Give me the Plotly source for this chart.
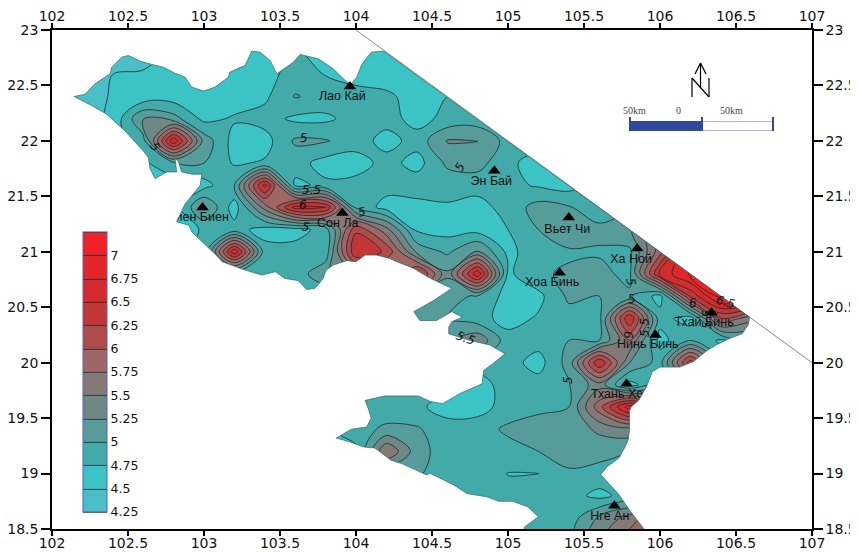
import plotly.graph_objects as go

lons = [102.0,102.2,102.4,102.6,102.8,103.0,103.2,103.4,103.6,103.8,104.0,104.2,104.4,104.6,104.8,105.0,105.2,105.4,105.6,105.8,106.0,106.2,106.4,106.6,106.8,107.0]
lats = [23.0,22.8,22.6,22.4,22.2,22.0,21.8,21.6,21.4,21.2,21.0,20.8,20.6,20.4,20.2,20.0,19.8,19.6,19.4,19.2,19.0,18.8,18.6,18.4]
z = [
[4.6,4.6,4.6,4.6,4.6,4.6,4.6,4.6,4.6,4.6,4.6,4.6,4.6,4.6,4.6,4.6,4.6,4.6,4.6,4.6,4.6,4.6,4.6,4.6,4.6,4.6],
[4.4,4.4,4.4,4.42,4.55,4.6,4.6,4.65,4.78,4.65,4.6,4.6,4.6,4.6,4.65,4.7,4.7,4.7,4.7,4.7,4.7,4.7,4.7,4.7,4.7,4.7],
[4.4,4.4,4.5,4.52,4.55,4.6,4.62,4.66,4.85,4.74,4.62,4.62,4.6,4.6,4.65,4.7,4.7,4.7,4.7,4.7,4.7,4.7,4.7,4.7,4.7,4.7],
[4.4,4.4,4.52,4.58,4.62,4.6,4.62,4.7,5.02,4.9,4.88,4.8,4.65,4.75,4.8,4.8,4.8,4.8,4.8,4.8,4.8,4.8,4.8,4.8,4.8,4.8],
[4.4,4.4,4.55,5.26,5.1,4.68,4.78,4.85,4.7,4.7,4.85,4.85,4.66,4.82,4.85,4.85,4.8,4.8,4.8,4.8,4.8,4.8,4.8,4.8,4.8,4.8],
[4.4,4.4,4.6,4.9,6.7,5.15,4.65,4.65,5.04,5.02,4.88,4.65,4.85,5.27,5.26,4.9,4.85,4.8,4.8,4.8,4.8,4.8,4.8,4.8,4.8,4.8],
[4.4,4.5,4.6,4.7,4.95,5.0,4.72,4.78,4.85,4.65,4.62,4.85,4.65,5.05,5.1,4.8,4.65,4.65,4.7,4.7,4.7,4.7,4.7,4.7,4.7,4.7],
[4.5,4.5,4.6,4.6,4.6,4.65,5.0,6.6,4.7,4.8,4.85,4.85,4.9,4.85,4.85,4.82,4.72,4.65,4.85,4.9,4.9,4.9,4.9,4.9,4.9,4.9],
[4.5,4.5,4.6,4.6,4.6,5.3,4.62,5.6,6.6,6.5,4.95,4.65,4.65,4.72,4.65,4.85,5.1,5.02,4.88,4.95,5.0,5.0,5.0,5.0,5.0,5.0],
[4.6,4.6,4.6,4.6,4.6,4.78,4.85,4.65,4.65,4.85,6.2,5.6,4.7,4.65,4.65,4.75,5.0,5.26,5.05,5.2,5.8,6.2,6.5,6.5,6.5,6.5],
[4.7,4.7,4.7,4.7,4.7,4.8,6.7,4.85,4.85,4.85,6.5,6.2,5.2,4.95,5.3,4.68,4.9,4.95,4.98,4.95,5.9,7.0,7.2,7.2,7.2,7.2],
[4.7,4.7,4.7,4.7,4.7,4.7,4.8,4.75,4.85,5.2,5.5,5.5,6.4,5.3,6.7,4.7,4.95,5.05,5.05,4.95,6.55,7.05,7.2,7.2,7.2,7.2],
[4.8,4.8,4.8,4.8,4.8,4.8,4.8,4.8,4.8,4.8,4.8,5.0,5.3,5.05,4.98,4.65,4.68,5.05,5.0,5.03,4.65,6.3,7.1,7.2,7.0,7.0],
[4.8,4.8,4.8,4.8,4.8,4.8,4.8,4.8,4.8,4.8,4.8,4.9,5.05,5.0,4.85,4.65,4.78,4.9,4.92,6.5,4.85,4.62,6.0,5.6,5.5,5.0],
[4.8,4.8,4.8,4.8,4.8,4.8,4.8,4.8,4.8,4.8,4.8,4.9,5.1,5.2,5.45,4.85,4.85,5.0,5.0,5.75,4.65,5.0,4.7,5.0,5.0,5.0],
[4.8,4.8,4.8,4.8,4.8,4.8,4.8,4.8,4.8,4.8,4.8,4.8,4.8,4.8,4.85,4.85,4.65,5.1,6.5,5.25,4.9,6.4,5.0,5.0,5.0,5.0],
[4.7,4.7,4.7,4.7,4.7,4.7,4.7,4.7,4.7,4.7,4.8,4.85,4.85,4.8,4.65,4.85,4.85,4.98,5.4,4.65,5.0,5.0,5.0,5.0,5.0,5.0],
[4.7,4.7,4.7,4.7,4.7,4.7,4.7,4.7,4.7,4.7,4.8,4.85,4.8,4.65,4.65,4.85,4.95,5.0,5.9,6.9,6.0,5.0,5.0,5.0,5.0,5.0],
[4.7,4.7,4.7,4.7,4.7,4.7,4.7,4.7,4.7,4.7,4.9,5.05,5.03,4.85,4.88,5.05,5.1,5.1,5.3,5.4,5.0,5.0,5.0,5.0,5.0,5.0],
[4.7,4.7,4.7,4.7,4.7,4.7,4.7,4.7,4.7,4.7,4.68,5.75,5.12,4.85,4.85,4.9,5.0,5.15,5.1,5.0,5.0,5.0,5.0,5.0,5.0,5.0],
[4.7,4.7,4.7,4.7,4.7,4.7,4.7,4.7,4.7,4.7,4.75,5.0,5.05,4.8,4.82,4.745,4.745,4.95,4.9,4.9,4.9,4.9,4.9,4.9,4.9,4.9],
[4.7,4.7,4.7,4.7,4.7,4.7,4.7,4.7,4.7,4.7,4.7,4.7,4.7,4.7,4.82,4.8,4.85,4.85,4.68,4.85,4.9,4.9,4.9,4.9,4.9,4.9],
[4.85,4.85,4.85,4.85,4.85,4.85,4.85,4.85,4.85,4.85,4.85,4.85,4.85,4.85,4.85,4.85,4.85,4.85,5.3,5.6,6.0,6.0,6.0,6.0,6.0,6.0],
[4.8,4.8,4.8,4.8,4.8,4.8,4.8,4.8,4.8,4.8,4.8,4.8,4.8,4.8,4.8,4.8,4.8,4.95,5.5,5.9,6.0,6.0,6.0,6.0,6.0,6.0],
]

band_colors = ["#4bbfc8","#3cc3c5","#42abaa","#559c9a","#6f8886","#837a78","#a06666","#ae4c4c","#c23636","#d42c2e","#e42629","#f02226"]
bar_ticks = [4.25,4.5,4.75,5,5.25,5.5,5.75,6,6.25,6.5,6.75,7]
bar_labels = ["4.25","4.5","4.75","5","5.25","5.5","5.75","6","6.25","6.5","6.75","7"]

ring_lon = [102.145,102.217,102.283,102.382,102.393,102.459,102.503,102.579,102.656,102.733,102.81,102.875,102.919,102.996,103.073,103.16,103.17,103.215,103.27,103.314,103.369,103.435,103.479,103.588,103.632,103.753,103.85,103.94,103.97,104.005,104.03,104.04,104.10,104.18,
106.59,106.58,106.54,106.46,106.37,106.31,106.22,106.13,106.07,106.0,105.95,105.91,105.86,105.81,105.80,105.80,105.79,105.77,105.73,105.65,105.61,105.65,105.73,105.80,105.89,105.95,
105.08,105.11,105.20,105.13,105.03,104.94,104.86,104.73,104.64,104.49,104.46,104.40,104.30,104.23,104.125,104.05,103.95,103.87,103.97,104.07,104.10,104.08,104.06,104.19,104.30,104.41,104.49,104.57,104.68,104.83,104.84,104.90,104.98,104.88,104.75,104.61,104.61,104.63,104.70,104.63,104.53,104.42,104.38,104.51,104.575,104.63,104.49,104.38,104.27,104.22,104.135,104.06,104.00,103.94,103.85,103.80,103.785,103.73,103.675,103.62,103.53,103.47,103.38,103.26,103.12,103.08,103.01,102.92,102.90,102.82,102.875,102.975,102.985,102.92,102.853,102.83,102.81,102.82,102.755,102.678,102.645,102.634,102.60,102.48,102.36,102.26]
ring_lat = [22.40,22.42,22.515,22.605,22.665,22.755,22.77,22.72,22.69,22.665,22.61,22.575,22.485,22.45,22.485,22.575,22.62,22.65,22.68,22.81,22.80,22.725,22.605,22.71,22.78,22.74,22.65,22.53,22.515,22.575,22.665,22.695,22.80,22.81,
20.41,20.34,20.26,20.22,20.16,20.11,20.01,19.96,19.96,19.96,19.92,19.78,19.66,19.60,19.57,19.39,19.30,19.24,19.14,19.06,18.99,18.93,18.81,18.67,18.51,18.40,
18.40,18.52,18.61,18.70,18.75,18.75,18.79,18.82,18.90,19.00,18.99,19.03,19.09,19.12,19.23,19.24,19.29,19.32,19.40,19.42,19.50,19.59,19.66,19.70,19.70,19.70,19.65,19.63,19.72,19.81,19.93,19.99,20.08,20.16,20.20,20.26,20.32,20.37,20.41,20.46,20.38,20.38,20.46,20.56,20.62,20.67,20.76,20.85,20.91,20.94,20.97,20.97,20.91,20.92,20.88,20.83,20.76,20.67,20.66,20.74,20.76,20.82,20.79,20.84,20.91,20.97,21.06,21.18,21.24,21.27,21.43,21.60,21.70,21.70,21.72,21.82,21.84,21.72,21.72,21.66,21.75,21.85,21.91,22.09,22.24,22.32]
outer_lon = [101.9,101.9,107.1,107.1,101.9]
outer_lat = [23.1,18.3,18.3,23.1,23.1]
diag_lon = [104.0,107.0]
diag_lat = [23.0,20.0]

station_lon = [103.96,104.91,105.40,105.85,105.34,106.34,105.97,105.78,105.70,103.91,102.99]
station_lat = [22.49,21.73,21.31,21.03,20.81,20.45,20.25,19.81,18.71,21.35,21.40]
label_lon = [103.91,104.89,105.39,105.81,105.29,106.29,105.92,105.74,105.67,103.88,102.96]
label_lat = [22.40,21.63,21.20,20.93,20.72,20.36,20.16,19.71,18.61,21.25,21.31]
station_names = ["Лао Кай","Эн Бай","Вьет Чи","Ха Ной","Хоа Бинь","Тхай Бинь","Нинь Бинь","Тхань Хоа","Нге Ан","Сон Ла","Диен Биен"]

iso_text = ["5","5","5.5","6","5","5","5","5","5","5.5","6","5","6","6.5","5.5","5.5"]
iso_px = [155,304,311,303,362,306,460,631,632,645,628,568,693,725,707,465]
iso_py = [147,138,190,205,212,227,167,282,299,328,335,380,303,302,320,338]
iso_ang = [60,-5,0,0,-10,10,-60,80,-5,-90,90,-90,-10,15,-90,20]

W, H = 850, 545
OFF = 8
L, R, T, B = 52 - OFF, 812 - OFF, 30 - OFF, 529 - OFF
def px(x): return (x - OFF - L) / (R - L)
def py(y): return (B - (y - OFF)) / (B - T)

n = len(band_colors)
colorscale = []
for i, c in enumerate(band_colors):
    colorscale += [[i / n, c], [(i + 1) / n, c]]

FONT = "DejaVu Sans"
fig = go.Figure()
fig.add_trace(go.Contour(
    x=lons, y=lats, z=z, zmin=4.25, zmax=7.25, autocontour=False,
    contours=dict(start=4.25, end=7.25, size=0.25, coloring="fill", showlines=True),
    line=dict(color="#1c2a2a", width=0.8, smoothing=1),
    colorscale=colorscale, hoverinfo="skip",
    colorbar=dict(x=px(83), xanchor="left", y=py(232), yanchor="top", thicknessmode="pixels", thickness=24,
                  lenmode="pixels", len=280, xpad=0, ypad=0, outlinecolor="#5a62b0", outlinewidth=1,
                  tickmode="array", tickvals=bar_ticks, ticktext=bar_labels, ticks="",
                  tickfont=dict(family=FONT, size=12.5, color="#111"), ticklabelposition="outside"),
))
fig.add_trace(go.Scatter(x=label_lon, y=label_lat, text=station_names, mode="text",
                         textfont=dict(family="Liberation Sans", size=12.5, color="#111"),
                         textposition="middle center", hoverinfo="skip", showlegend=False, cliponaxis=True))
fig.add_trace(go.Scatter(x=outer_lon + ring_lon + ring_lon[:1] + outer_lon[:1],
                         y=outer_lat + ring_lat + ring_lat[:1] + outer_lat[:1],
                         mode="none", fill="toself", fillcolor="white", hoverinfo="skip", showlegend=False))
fig.add_trace(go.Scatter(x=diag_lon, y=diag_lat, mode="lines", line=dict(color="#555", width=0.7),
                         hoverinfo="skip", showlegend=False))
fig.add_trace(go.Scatter(x=ring_lon + ring_lon[:1], y=ring_lat + ring_lat[:1], mode="lines",
                         line=dict(color="#2b6a6a", width=0.7), hoverinfo="skip", showlegend=False))
fig.add_trace(go.Scatter(x=station_lon, y=station_lat, mode="markers",
                         marker=dict(symbol="triangle-up", size=11, color="black"),
                         hoverinfo="skip", showlegend=False))
fig.add_trace(go.Scatter(x=[102], y=[23], xaxis="x2", yaxis="y2", mode="markers",
                         marker=dict(opacity=0), hoverinfo="skip", showlegend=False))

annotations = []
for t, a, b, ang in zip(iso_text, iso_px, iso_py, iso_ang):
    annotations.append(dict(xref="paper", yref="paper", x=px(a), y=py(b), xanchor="center", yanchor="middle",
                            text=f"<i>{t}</i>", showarrow=False, textangle=ang,
                            font=dict(family=FONT, size=12, color="#111")))
for t, a in zip(["50km", "0", "50km"], [634, 678, 731]):
    annotations.append(dict(xref="paper", yref="paper", x=px(a), y=py(110), xanchor="center", yanchor="middle",
                            text=t, showarrow=False, font=dict(family="Liberation Serif", size=10, color="#444")))

def rect(x0, y0, x1, y1, fill, line="#2f4a9c", w=1):
    return dict(type="rect", xref="paper", yref="paper", x0=px(x0), x1=px(x1), y0=py(y0), y1=py(y1),
                fillcolor=fill, line=dict(color=line, width=w), layer="above")
def seg(x0, y0, x1, y1, color="black", w=1.2):
    return dict(type="line", xref="paper", yref="paper", x0=px(x0), x1=px(x1), y0=py(y0), y1=py(y1),
                line=dict(color=color, width=w), layer="above")
shapes = [
    rect(630, 121.5, 702, 130.5, "#2f4a9c"),
    rect(702, 121.5, 773, 130.5, "white", "#aab6dc", 1),
    seg(630, 117, 630, 131, "#2f4a9c", 2), seg(702, 117, 702, 131, "#2f4a9c", 2), seg(773, 117, 773, 131, "#2f4a9c", 2),
    seg(692, 97, 692, 78), seg(692, 78, 709, 97), seg(709, 97, 709, 78),
    seg(700.5, 63, 700.5, 88), seg(695, 74, 700.5, 63), seg(706, 74, 700.5, 63),
]

axis_font = dict(family=FONT, size=14, color="#111")
xcommon = dict(range=[102, 107], tickmode="array", tickvals=[102,102.5,103,103.5,104,104.5,105,105.5,106,106.5,107],
               ticktext=["102","102.5","103","103.5","104","104.5","105","105.5","106","106.5","107"],
               ticks="outside", ticklen=5, tickwidth=1.5, tickcolor="black", showline=True, linewidth=1.5,
               linecolor="black", showgrid=False, zeroline=False, tickfont=axis_font, automargin=False)
ycommon = dict(range=[18.5, 23], tickmode="array", tickvals=[18.5,19,19.5,20,20.5,21,21.5,22,22.5,23],
               ticktext=["18.5","19","19.5","20","20.5","21","21.5","22","22.5","23"],
               ticks="outside", ticklen=9, tickwidth=1.5, tickcolor="black", showline=True, linewidth=1.5,
               linecolor="black", showgrid=False, zeroline=False, tickfont=axis_font, automargin=False)
fig.update_layout(
    width=W, height=H, autosize=False, margin=dict(l=L, r=W - R, t=T, b=H - B, pad=0, autoexpand=False),
    paper_bgcolor="white", plot_bgcolor="white", showlegend=False,
    xaxis=dict(**xcommon, anchor="y", side="bottom", ticklabelstandoff=-5),
    yaxis=dict(**ycommon, anchor="x", side="left"),
    xaxis2=dict(**xcommon, overlaying="x", anchor="y2", side="top", ticklabelstandoff=-3),
    yaxis2=dict(**ycommon, overlaying="y", anchor="x2", side="right"),
    annotations=annotations, shapes=shapes,
)
fig.write_html("out.html")
